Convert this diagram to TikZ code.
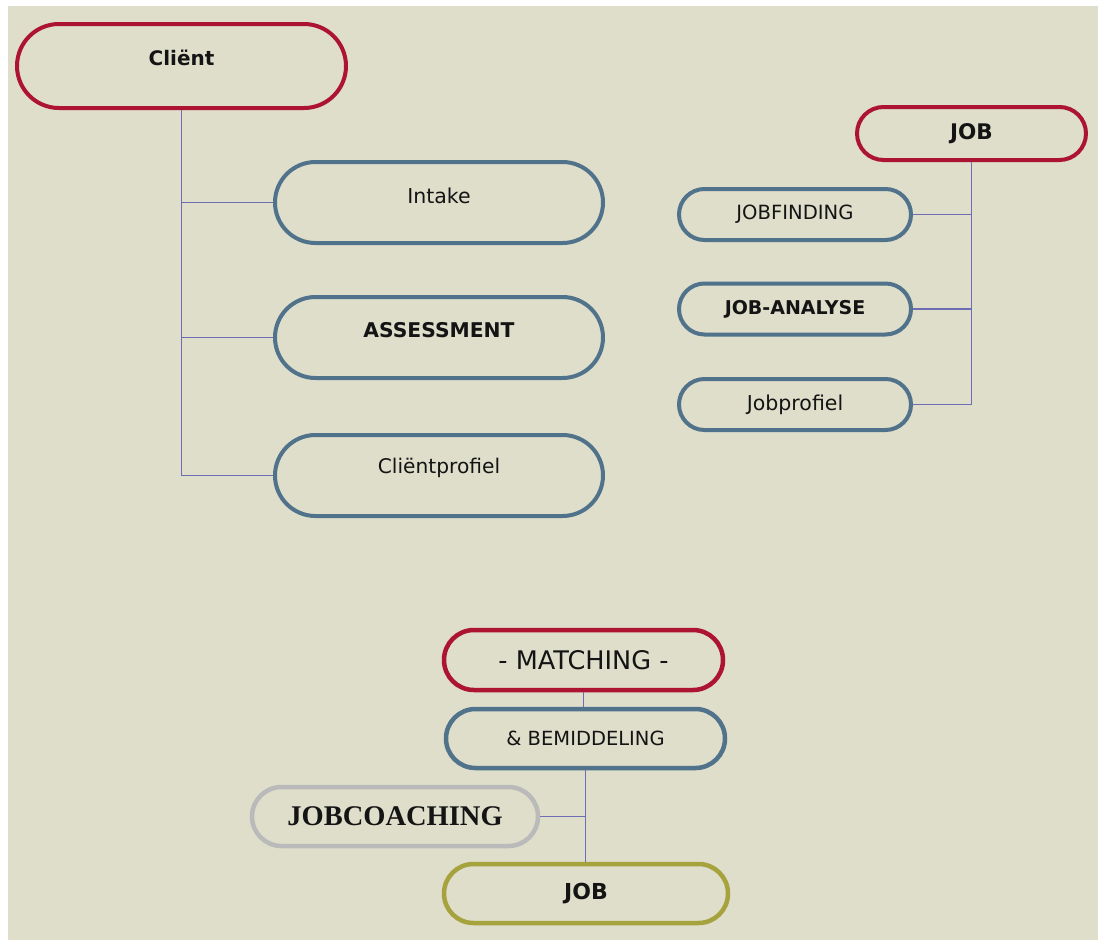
\documentclass[tikz,border=0pt]{standalone}
\usepackage{fontspec}
\setmainfont{DejaVu Sans}
\newfontfamily\serifbold{Liberation Serif}
\definecolor{bg}{RGB}{222,222,203}
\definecolor{cred}{RGB}{172,20,50}
\definecolor{cblue}{RGB}{80,114,138}
\definecolor{cgray}{RGB}{186,186,186}
\definecolor{colive}{RGB}{166,162,62}
\definecolor{cline}{RGB}{110,108,178}
\definecolor{ctext}{RGB}{20,20,20}
\newcommand{\upby}[2]{\raisebox{#1}[\height][\depth]{#2}}
\tikzset{
  pill/.style={draw, rectangle, line width=4pt, inner sep=0pt, text=ctext},
  redpill/.style={pill, draw=cred},
  bluepill/.style={pill, draw=cblue},
  graypill/.style={pill, draw=cgray},
  olivepill/.style={pill, draw=colive},
  conn/.style={draw=cline, line width=1.2pt},
  fs/.style={font=\fontsize{#1}{#1}\selectfont},
}
\begin{document}
\begin{tikzpicture}[x=1pt,y=-1pt]
\useasboundingbox (0,0) rectangle (1098,940);
\fill[white] (0,0) rectangle (1098,940);
\fill[bg] (8,6) rectangle (1098,940);

% left tree
\node[redpill, minimum width=329, minimum height=84, rounded corners=42, fs=20] (client) at (181.5,66) {\bfseries\upby{8pt}{Cliënt}};
\node[bluepill, minimum width=328, minimum height=81, rounded corners=40.5, fs=20.5] (intake) at (439,202.5) {\upby{7pt}{Intake}};
\node[bluepill, minimum width=328, minimum height=81, rounded corners=40.5, fs=20.3] (assess) at (439,337.5) {\bfseries\upby{7pt}{ASSESSMENT}};
\node[bluepill, minimum width=328, minimum height=81, rounded corners=40.5, fs=20.2] (cprof) at (439,475.5) {\upby{8pt}{Cliëntprofiel}};

\draw[conn] (client.south) -- (client.south |- cprof.west) -- (cprof.west);
\draw[conn] (client.south |- intake.west) -- (intake.west);
\draw[conn] (client.south |- assess.west) -- (assess.west);

% right tree
\node[redpill, minimum width=229, minimum height=53, rounded corners=26.5, fs=21.5] (jobr) at (971.5,133.5) {\bfseries JOB};
\node[bluepill, minimum width=232, minimum height=51, rounded corners=25.5, fs=19.6] (jfind) at (795,214.5) {JOBFINDING};
\node[bluepill, minimum width=232, minimum height=51, rounded corners=25.5, fs=19] (janal) at (795,309) {\bfseries JOB-ANALYSE};
\node[bluepill, minimum width=232, minimum height=51, rounded corners=25.5, fs=20.5] (jprof) at (795,404.5) {Jobprofiel};

\draw[conn] (jobr.south) -- (jobr.south |- jprof.east) -- (jprof.east);
\draw[conn] (jobr.south |- jfind.east) -- (jfind.east);
\draw[conn] (jobr.south |- janal.east) -- (janal.east);

% bottom
\node[redpill, line width=4.5pt, minimum width=279, minimum height=60, rounded corners=30, fs=25.6] (match) at (583.5,660) {- MATCHING -};
\node[bluepill, line width=4.5pt, minimum width=279, minimum height=59, rounded corners=29.5, fs=19.5] (bemid) at (585.5,738.5) {\& BEMIDDELING};
\node[graypill, line width=4.5pt, minimum width=286, minimum height=59, rounded corners=29.5, font=\serifbold\bfseries\fontsize{28.5}{28.5}\selectfont] (coach) at (395,816.5) {JOBCOACHING};
\node[olivepill, line width=4.5pt, minimum width=284, minimum height=59, rounded corners=29.5, fs=22] (joby) at (586,893.5) {\bfseries JOB};

\draw[conn] (match.south) -- (match.south |- bemid.north);
\draw[conn] (bemid.south) -- (bemid.south |- joby.north);
\draw[conn] (coach.east) -- (coach.east -| bemid.south);
\end{tikzpicture}
\end{document}
